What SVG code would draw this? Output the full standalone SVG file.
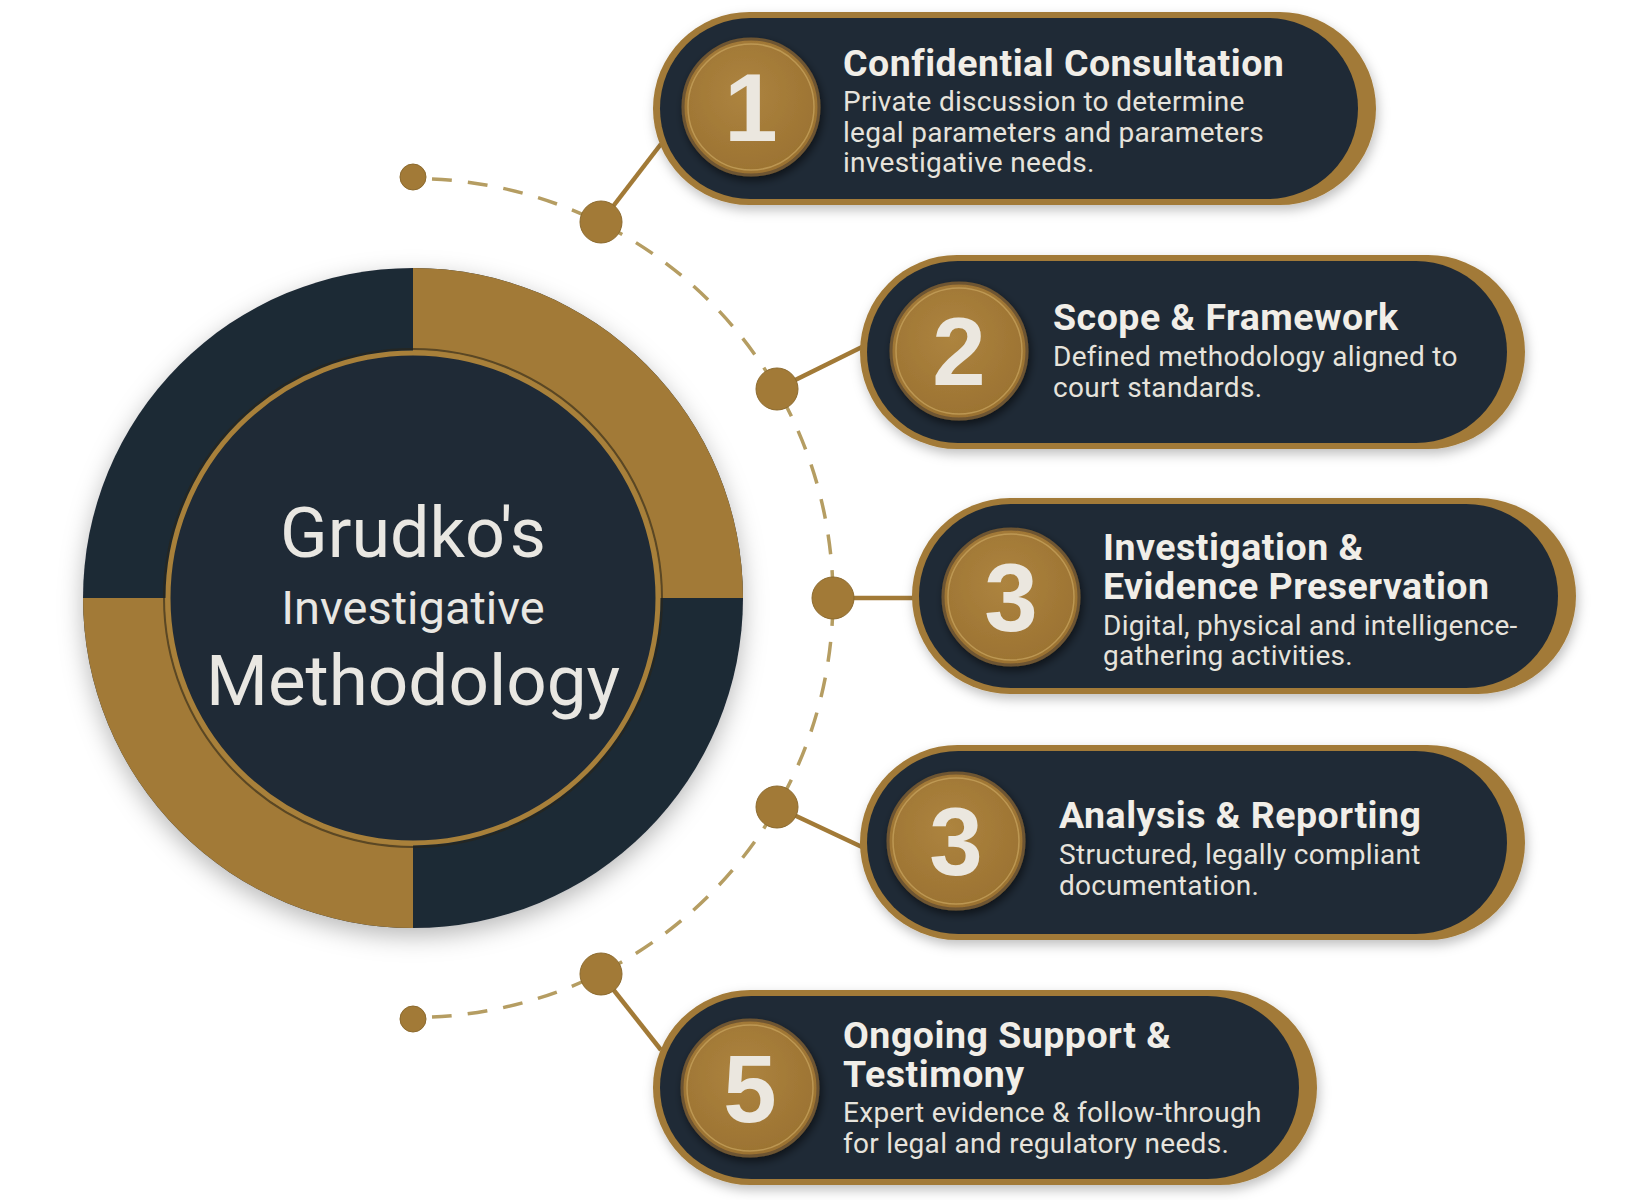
<svg xmlns="http://www.w3.org/2000/svg" width="1632" height="1200" viewBox="0 0 1632 1200">
<defs>
<filter id="shadow" x="-20%" y="-20%" width="140%" height="140%">
<feDropShadow dx="0" dy="8" stdDeviation="12" flood-color="#000" flood-opacity="0.28"/>
</filter>
<filter id="pshadow" x="-10%" y="-20%" width="120%" height="150%">
<feDropShadow dx="2" dy="5" stdDeviation="6" flood-color="#000" flood-opacity="0.25"/>
</filter>
<filter id="cshadow" x="-30%" y="-30%" width="160%" height="160%">
<feDropShadow dx="2" dy="4" stdDeviation="4" flood-color="#000" flood-opacity="0.55"/>
</filter>
<radialGradient id="coin" cx="45%" cy="40%" r="65%">
<stop offset="0" stop-color="#ad843f"/>
<stop offset="1" stop-color="#9a7131"/>
</radialGradient>
<style>
.gold{fill:#a27a37}
.dark{fill:#1f2a36}
.coin{fill:url(#coin);stroke:#6e5430;stroke-width:3}
.coinhl{fill:none;stroke:#c9a560;stroke-width:1.5;opacity:0.7}
.num{font-family:"Liberation Sans",Arial,sans-serif;font-weight:700;font-size:96px;fill:#ebe7df;text-anchor:middle}
.head{font-family:Roboto,"Liberation Sans",sans-serif;font-weight:700;font-size:37.5px;letter-spacing:0.5px;fill:#f1eee8}
.desc{font-family:Roboto,"Liberation Sans",sans-serif;font-weight:400;font-size:28px;letter-spacing:0.3px;fill:#e6e3dc}
.title{font-family:Roboto,"Liberation Sans",sans-serif;font-weight:400;fill:#e9e7e2;text-anchor:middle}
.dash{fill:none;stroke:#b59d62;stroke-width:3.5;stroke-dasharray:20 16}
.link{fill:none;stroke:#a27a37;stroke-width:4.5}
.dot{fill:#a27a37;stroke:#8c6a2e;stroke-width:1}
</style>
</defs>
<rect width="1632" height="1200" fill="#ffffff"/>

<g id="connectors">
<path class="dash" d="M432,179 A420,420 0 0 1 833,598 A420,420 0 0 1 432,1017"/>
<line class="link" x1="601" y1="222" x2="661" y2="144"/>
<line class="link" x1="777" y1="389" x2="862" y2="347"/>
<line class="link" x1="833" y1="598" x2="914" y2="598"/>
<line class="link" x1="777" y1="807" x2="862" y2="847"/>
<line class="link" x1="601" y1="974" x2="661" y2="1050"/>
<circle class="dot" cx="413" cy="177" r="13"/>
<circle class="dot" cx="413" cy="1019" r="13"/>
<circle class="dot" cx="601" cy="222" r="21"/>
<circle class="dot" cx="777" cy="389" r="21"/>
<circle class="dot" cx="833" cy="598" r="21"/>
<circle class="dot" cx="777" cy="807" r="21"/>
<circle class="dot" cx="601" cy="974" r="21"/>
</g>

<g id="center">
<g filter="url(#shadow)">
<circle class="dark" cx="413" cy="598" r="330"/>
</g>
<path class="gold" d="M413,598 L413,268 A330,330 0 0 1 743,598 Z"/>
<path class="gold" d="M413,598 L413,928 A330,330 0 0 1 83,598 Z"/>
<circle cx="413" cy="598" r="249" fill="none" stroke="#2a2418" stroke-width="2" opacity="0.6"/>
<circle cx="413" cy="598" r="245" fill="#1f2a36" stroke="#a8803a" stroke-width="5"/>
<text class="title" x="413" y="557" font-size="70">Grudko's</text>
<text class="title" x="413" y="624" font-size="47">Investigative</text>
<text class="title" x="413" y="705" font-size="71">Methodology</text>
</g>

<g id="step1">
<g filter="url(#pshadow)">
<rect class="gold" x="653" y="12" width="723" height="193" rx="96.5"/>
</g>
<rect class="dark" x="660" y="18" width="698" height="181" rx="90.5"/>
<circle class="coin" cx="751" cy="107" r="68" filter="url(#cshadow)"/>
<circle class="coinhl" cx="751" cy="107" r="63"/>
<text class="num" x="751" y="141">1</text>
<text class="head" x="843" y="76">Confidential Consultation</text>
<text class="desc" x="843" y="111">Private discussion to determine</text>
<text class="desc" x="843" y="142">legal parameters and parameters</text>
<text class="desc" x="843" y="172">investigative needs.</text>
</g>

<g id="step2">
<g filter="url(#pshadow)">
<rect class="gold" x="860" y="255" width="665" height="194" rx="97"/>
</g>
<rect class="dark" x="867" y="261" width="640" height="182" rx="91"/>
<circle class="coin" cx="959" cy="351" r="68" filter="url(#cshadow)"/>
<circle class="coinhl" cx="959" cy="351" r="63"/>
<text class="num" x="959" y="385">2</text>
<text class="head" x="1053" y="330">Scope &amp; Framework</text>
<text class="desc" x="1053" y="366">Defined methodology aligned to</text>
<text class="desc" x="1053" y="397">court standards.</text>
</g>

<g id="step3">
<g filter="url(#pshadow)">
<rect class="gold" x="912" y="498" width="664" height="196" rx="98"/>
</g>
<rect class="dark" x="919" y="504" width="639" height="184" rx="92"/>
<circle class="coin" cx="1011" cy="597" r="68" filter="url(#cshadow)"/>
<circle class="coinhl" cx="1011" cy="597" r="63"/>
<text class="num" x="1011" y="631">3</text>
<text class="head" x="1103" y="560">Investigation &amp;</text>
<text class="head" x="1103" y="599">Evidence Preservation</text>
<text class="desc" x="1103" y="635">Digital, physical and intelligence-</text>
<text class="desc" x="1103" y="665">gathering activities.</text>
</g>

<g id="step4">
<g filter="url(#pshadow)">
<rect class="gold" x="860" y="745" width="665" height="195" rx="97.5"/>
</g>
<rect class="dark" x="867" y="751" width="640" height="183" rx="91.5"/>
<circle class="coin" cx="956" cy="841" r="68" filter="url(#cshadow)"/>
<circle class="coinhl" cx="956" cy="841" r="63"/>
<text class="num" x="956" y="875">3</text>
<text class="head" x="1059" y="828">Analysis &amp; Reporting</text>
<text class="desc" x="1059" y="864">Structured, legally compliant</text>
<text class="desc" x="1059" y="895">documentation.</text>
</g>

<g id="step5">
<g filter="url(#pshadow)">
<rect class="gold" x="653" y="990" width="664" height="195" rx="97.5"/>
</g>
<rect class="dark" x="660" y="996" width="639" height="183" rx="91.5"/>
<circle class="coin" cx="750" cy="1088" r="68" filter="url(#cshadow)"/>
<circle class="coinhl" cx="750" cy="1088" r="63"/>
<text class="num" x="750" y="1122">5</text>
<text class="head" x="843" y="1048">Ongoing Support &amp;</text>
<text class="head" x="843" y="1087">Testimony</text>
<text class="desc" x="843" y="1122">Expert evidence &amp; follow-through</text>
<text class="desc" x="843" y="1153">for legal and regulatory needs.</text>
</g>
</svg>
